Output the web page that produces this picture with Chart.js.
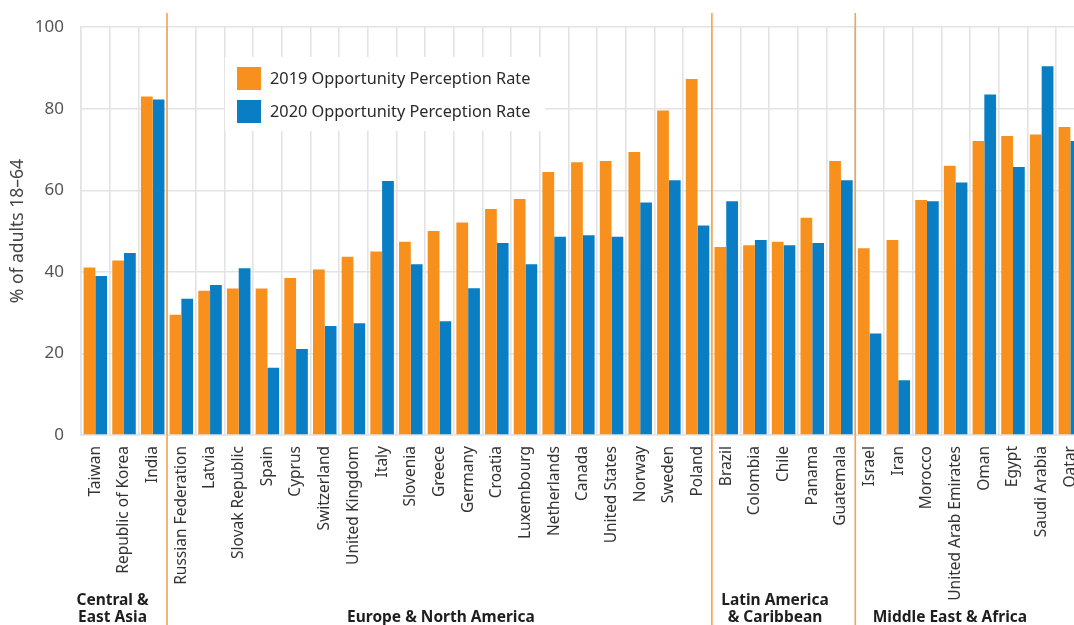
<!DOCTYPE html>
<html>
<head>
<meta charset="utf-8">
<script src="https://cdn.jsdelivr.net/npm/chart.js@4/dist/chart.umd.min.js"></script>
<style>
  html, body { margin: 0; padding: 0; background: #fff; overflow: hidden; }
  #wrap { width: 1100px; height: 625px; }
</style>
</head>
<body>
<div id="wrap"><canvas id="chart" width="1100" height="625"></canvas></div>
<script>
const countries = [
  'Taiwan', 'Republic of Korea', 'India',
  'Russian Federation', 'Latvia', 'Slovak Republic', 'Spain', 'Cyprus', 'Switzerland',
  'United Kingdom', 'Italy', 'Slovenia', 'Greece', 'Germany', 'Croatia', 'Luxembourg',
  'Netherlands', 'Canada', 'United States', 'Norway', 'Sweden', 'Poland',
  'Brazil', 'Colombia', 'Chile', 'Panama', 'Guatemala',
  'Israel', 'Iran', 'Morocco', 'United Arab Emirates', 'Oman', 'Egypt', 'Saudi Arabia', 'Qatar'
];

const rate2019 = [
  41.1, 42.8, 83.0,
  29.5, 35.4, 35.9, 35.9, 38.5, 40.6,
  43.7, 45.0, 47.4, 50.0, 52.1, 55.4, 57.9,
  64.5, 66.9, 67.2, 69.4, 79.6, 87.3,
  46.1, 46.5, 47.4, 53.3, 67.2,
  45.8, 47.8, 57.6, 66.0, 72.1, 73.3, 73.7, 75.5
];

const rate2020 = [
  39.0, 44.6, 82.3,
  33.4, 36.8, 40.9, 16.5, 21.1, 26.7,
  27.4, 62.3, 41.9, 27.9, 36.0, 47.1, 41.9,
  48.6, 49.0, 48.6, 57.0, 62.5, 51.4,
  57.3, 47.8, 46.5, 47.1, 62.5,
  24.9, 13.4, 57.3, 61.9, 83.5, 65.7, 90.4, 72.1
];

// regions: first category index, label lines, label centre (in category units)
const regions = [
  { from: 0, labelAt: 0.6, lines: ['Central &', 'East Asia'] },
  { from: 3, labelAt: 12.05, lines: ['Europe & North America'] },
  { from: 22, labelAt: 23.7, lines: ['Latin America', '& Caribbean'] },
  { from: 27, labelAt: 29.8, lines: ['Middle East & Africa'] }
];

const ORANGE = '#F8901E';
const BLUE = '#0A7EC5';
const FONT = '"Noto Sans", sans-serif';

const regionPlugin = {
  id: 'regions',
  afterDraw(chart) {
    const ctx = chart.ctx;
    const x = chart.scales.x;
    const step = x.getPixelForValue(1) - x.getPixelForValue(0);
    ctx.save();
    // separators between regions
    ctx.strokeStyle = '#F7A24C';
    ctx.lineWidth = 1.6;
    regions.slice(1).forEach(r => {
      const px = x.getPixelForValue(r.from) - step / 2;
      ctx.beginPath();
      ctx.moveTo(px, 13);
      ctx.lineTo(px, chart.height);
      ctx.stroke();
    });
    // region names
    ctx.fillStyle = '#1e1e1e';
    ctx.font = 'bold 15.5px ' + FONT;
    ctx.textAlign = 'center';
    ctx.textBaseline = 'middle';
    regions.forEach(r => {
      const cx = x.getPixelForValue(0) + r.labelAt * step;
      r.lines.forEach((t, i) => {
        const y = 618 - (r.lines.length - 1 - i) * 17;
        ctx.fillText(t, cx, y);
      });
    });
    ctx.restore();
  }
};

const legendPlugin = {
  id: 'boxLegend',
  afterDatasetsDraw(chart) {
    const ctx = chart.ctx;
    ctx.save();
    ctx.fillStyle = '#fff';
    ctx.fillRect(225, 57, 320, 74);
    ctx.font = '16.3px ' + FONT;
    ctx.textBaseline = 'middle';
    ctx.textAlign = 'left';
    chart.data.datasets.forEach((d, i) => {
      const y = 67 + i * 33;
      ctx.fillStyle = d.backgroundColor;
      ctx.fillRect(237, y, 24, 23);
      ctx.fillStyle = '#2a2a2a';
      ctx.fillText(d.label, 270, y + 12);
    });
    ctx.restore();
  }
};

// eslint-disable-next-line no-new
new Chart(document.getElementById('chart'), {
  type: 'bar',
  data: {
    labels: countries,
    datasets: [
      {
        label: '2019 Opportunity Perception Rate',
        data: rate2019,
        backgroundColor: ORANGE,
        barPercentage: 1,
        categoryPercentage: 0.82
      },
      {
        label: '2020 Opportunity Perception Rate',
        data: rate2020,
        backgroundColor: BLUE,
        barPercentage: 1,
        categoryPercentage: 0.82
      }
    ]
  },
  options: {
    responsive: false,
    animation: false,
    layout: { padding: { top: 26, right: 3, left: 0, bottom: 0 } },
    plugins: {
      legend: { display: false },
      tooltip: { enabled: false }
    },
    scales: {
      x: {
        grid: { color: '#e3e3e3', lineWidth: 1.6, drawTicks: false, offset: true },
        border: { color: '#e3e3e3', width: 1.6 },
        ticks: {
          autoSkip: false,
          maxRotation: 90,
          minRotation: 90,
          padding: 11,
          color: '#333',
          font: { family: FONT, size: 15.5 }
        },
        afterFit(scale) { scale.height = 190; }
      },
      y: {
        min: 0,
        max: 100,
        grid: { color: '#e3e3e3', lineWidth: 1.6, drawTicks: false },
        border: { color: '#e3e3e3', width: 1.6 },
        ticks: {
          stepSize: 20,
          padding: 17,
          color: '#555',
          font: { family: FONT, size: 17 }
        },
        title: {
          display: true,
          text: '% of adults 18–64',
          color: '#444',
          padding: { top: 8, bottom: 0 },
          font: { family: FONT, size: 17.5 }
        },
        afterFit(scale) { scale.width = 81; }
      }
    }
  },
  plugins: [legendPlugin, regionPlugin]
});
</script>
</body>
</html>
